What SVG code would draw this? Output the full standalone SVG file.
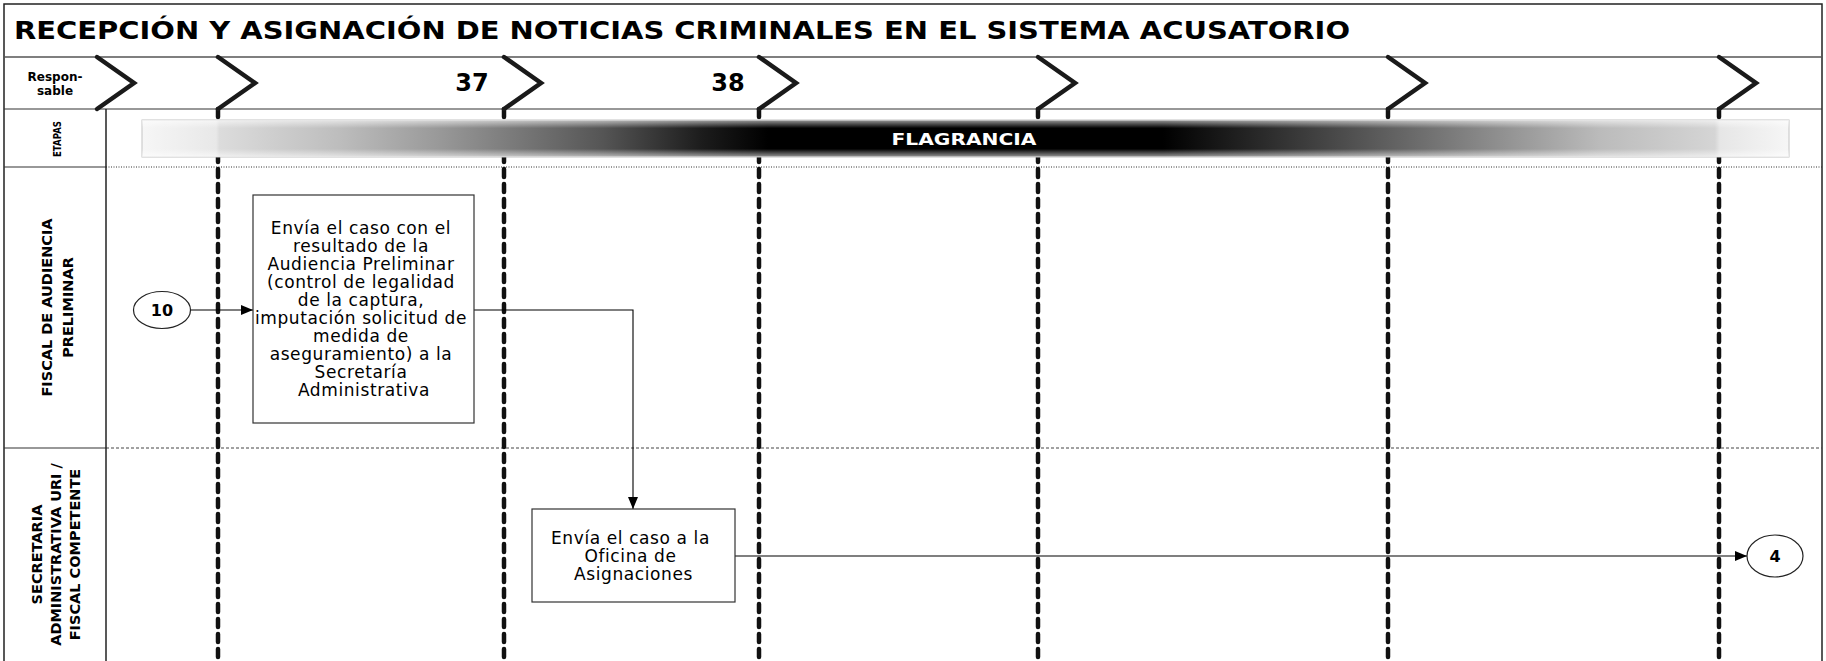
<svg xmlns="http://www.w3.org/2000/svg" width="1826" height="661" viewBox="0 0 1826 661">
<defs>
<style>
.t{font-family:"DejaVu Sans","Liberation Sans",sans-serif;fill:#000}
.b{font-weight:bold}
.m{text-anchor:middle}
.bt{font-size:17px;letter-spacing:0.6px}
.chev{fill:none;stroke:#1a1a1a;stroke-width:4.5;stroke-linejoin:miter;stroke-linecap:round}
.vd{stroke:#111;stroke-width:4.5;stroke-dasharray:8 7;stroke-linecap:round}
.box{fill:#fff;stroke:#333;stroke-width:1.2}
.ell{fill:#fff;stroke:#222;stroke-width:1.2}
.con{fill:none;stroke:#000;stroke-width:1.1}
.frame{fill:none;stroke:#222;stroke-width:1.5}
</style>
<marker id="ah" viewBox="0 0 12 10" refX="12" refY="5" markerWidth="12" markerHeight="10" markerUnits="userSpaceOnUse" orient="auto"><path d="M0,0 L12,5 L0,10 z" fill="#000"/></marker>
<linearGradient id="gh" x1="0" y1="0" x2="1" y2="0">
<stop offset="0" stop-color="#f6f6f6"/>
<stop offset="0.045" stop-color="#e8e8e8"/>
<stop offset="0.047" stop-color="#dcdcdc"/>
<stop offset="0.12" stop-color="#bdbdbd"/>
<stop offset="0.18" stop-color="#999"/>
<stop offset="0.28" stop-color="#555"/>
<stop offset="0.34" stop-color="#1c1c1c"/>
<stop offset="0.38" stop-color="#000"/>
<stop offset="0.62" stop-color="#000"/>
<stop offset="0.70" stop-color="#383838"/>
<stop offset="0.79" stop-color="#777"/>
<stop offset="0.885" stop-color="#bbb"/>
<stop offset="0.955" stop-color="#d5d5d5"/>
<stop offset="0.958" stop-color="#e6e6e6"/>
<stop offset="1" stop-color="#f6f6f6"/>
</linearGradient>
<linearGradient id="gv" x1="0" y1="0" x2="0" y2="1">
<stop offset="0" stop-color="#fff" stop-opacity="0.6"/>
<stop offset="0.22" stop-color="#fff" stop-opacity="0"/>
<stop offset="0.78" stop-color="#fff" stop-opacity="0"/>
<stop offset="1" stop-color="#fff" stop-opacity="0.6"/>
</linearGradient>
</defs>
<rect x="0" y="0" width="1826" height="661" fill="#fff"/>

<g id="frame">
<rect class="frame" x="4" y="4" width="1818" height="680"/>
<line x1="4" y1="57" x2="1822" y2="57" stroke="#555" stroke-width="1.5"/>
<line x1="4" y1="109" x2="1822" y2="109" stroke="#333" stroke-width="1.2"/>
<line x1="4" y1="167" x2="106" y2="167" stroke="#333" stroke-width="1.2"/>
<line x1="106" y1="167" x2="1822" y2="167" stroke="#333" stroke-width="1" stroke-dasharray="1 1.5"/>
<line x1="4" y1="448" x2="106" y2="448" stroke="#333" stroke-width="1.2"/>
<line x1="106" y1="448" x2="1822" y2="448" stroke="#444" stroke-width="1" stroke-dasharray="3 2"/>
<line x1="106" y1="109" x2="106" y2="661" stroke="#222" stroke-width="1.5"/>
<text class="t b" x="14" y="39" font-size="24" textLength="1336" lengthAdjust="spacingAndGlyphs">RECEPCIÓN Y ASIGNACIÓN DE NOTICIAS CRIMINALES EN EL SISTEMA ACUSATORIO</text>
<text class="t b m" x="55" y="81" font-size="12">Respon-</text>
<text class="t b m" x="55" y="95" font-size="12">sable</text>
<text class="t b m" transform="translate(61,139) rotate(-90)" font-size="10" textLength="36" lengthAdjust="spacingAndGlyphs">ETAPAS</text>
</g>

<g id="phases">
<line class="vd" x1="218" y1="109" x2="218" y2="661"/>
<line class="vd" x1="504" y1="109" x2="504" y2="661"/>
<line class="vd" x1="759" y1="109" x2="759" y2="661"/>
<line class="vd" x1="1038" y1="109" x2="1038" y2="661"/>
<line class="vd" x1="1388" y1="109" x2="1388" y2="661"/>
<line class="vd" x1="1719" y1="109" x2="1719" y2="661"/>
<path class="chev" d="M97,57 L134,83 L97,109"/>
<path class="chev" d="M218,57 L255,83 L218,109"/>
<path class="chev" d="M504,57 L541,83 L504,109"/>
<path class="chev" d="M759,57 L796,83 L759,109"/>
<path class="chev" d="M1038,57 L1075,83 L1038,109"/>
<path class="chev" d="M1388,57 L1425,83 L1388,109"/>
<path class="chev" d="M1719,57 L1756,83 L1719,109"/>
<text class="t b m" x="472" y="91" font-size="24">37</text>
<text class="t b m" x="728" y="91" font-size="24">38</text>
</g>

<g id="etapa-flagrancia">
<rect x="142" y="120" width="1647" height="37" fill="url(#gh)" stroke="#c4c4c4" stroke-width="1"/>
<rect x="142" y="120" width="1647" height="37" fill="url(#gv)"/>
<text class="b m" x="964" y="144.5" font-size="16.5" font-family="DejaVu Sans, Liberation Sans, sans-serif" fill="#fff" textLength="145" lengthAdjust="spacingAndGlyphs">FLAGRANCIA</text>
</g>

<g id="lane-fiscal-audiencia">
<text class="t b m" transform="translate(52,307.5) rotate(-90)" font-size="14.5">FISCAL DE AUDIENCIA</text>
<text class="t b m" transform="translate(73,307.5) rotate(-90)" font-size="14.5">PRELIMINAR</text>
</g>

<g id="lane-secretaria">
<text class="t b m" transform="translate(42,554.5) rotate(-90)" font-size="14.5">SECRETARIA</text>
<text class="t b m" transform="translate(61,554.5) rotate(-90)" font-size="14.5">ADMINISTRATIVA URI /</text>
<text class="t b m" transform="translate(80,554.5) rotate(-90)" font-size="14.5">FISCAL COMPETENTE</text>
</g>

<g id="connectors">
<path class="con" d="M190.5,310 H253" marker-end="url(#ah)"/>
<path class="con" d="M474,310 H633 V509" marker-end="url(#ah)"/>
<path class="con" d="M735,556 H1747" marker-end="url(#ah)"/>
</g>

<g id="node-10">
<ellipse class="ell" cx="162" cy="310" rx="28.5" ry="18.5"/>
<text class="t b m" x="162" y="315.5" font-size="16">10</text>
</g>

<g id="node-envia-audiencia">
<rect class="box" x="253" y="195" width="221" height="228"/>
<text class="t m bt">
<tspan x="364" y="233.5">Envía el caso con el</tspan>
<tspan x="364" y="251.5">resultado de la</tspan>
<tspan x="364" y="269.5">Audiencia Preliminar</tspan>
<tspan x="364" y="287.5">(control de legalidad</tspan>
<tspan x="364" y="305.5">de la captura,</tspan>
<tspan x="364" y="323.5">imputación solicitud de</tspan>
<tspan x="364" y="341.5">medida de</tspan>
<tspan x="364" y="359.5">aseguramiento) a la</tspan>
<tspan x="364" y="377.5">Secretaría</tspan>
<tspan x="364" y="395.5">Administrativa</tspan>
</text>
</g>

<g id="node-envia-oficina">
<rect class="box" x="532" y="509" width="203" height="93"/>
<text class="t m bt">
<tspan x="633.5" y="543.5">Envía el caso a la</tspan>
<tspan x="633.5" y="561.5">Oficina de</tspan>
<tspan x="633.5" y="579.5">Asignaciones</tspan>
</text>
</g>

<g id="node-4">
<ellipse class="ell" cx="1775" cy="556" rx="28" ry="21"/>
<text class="t b m" x="1775" y="561.5" font-size="16">4</text>
</g>
</svg>
